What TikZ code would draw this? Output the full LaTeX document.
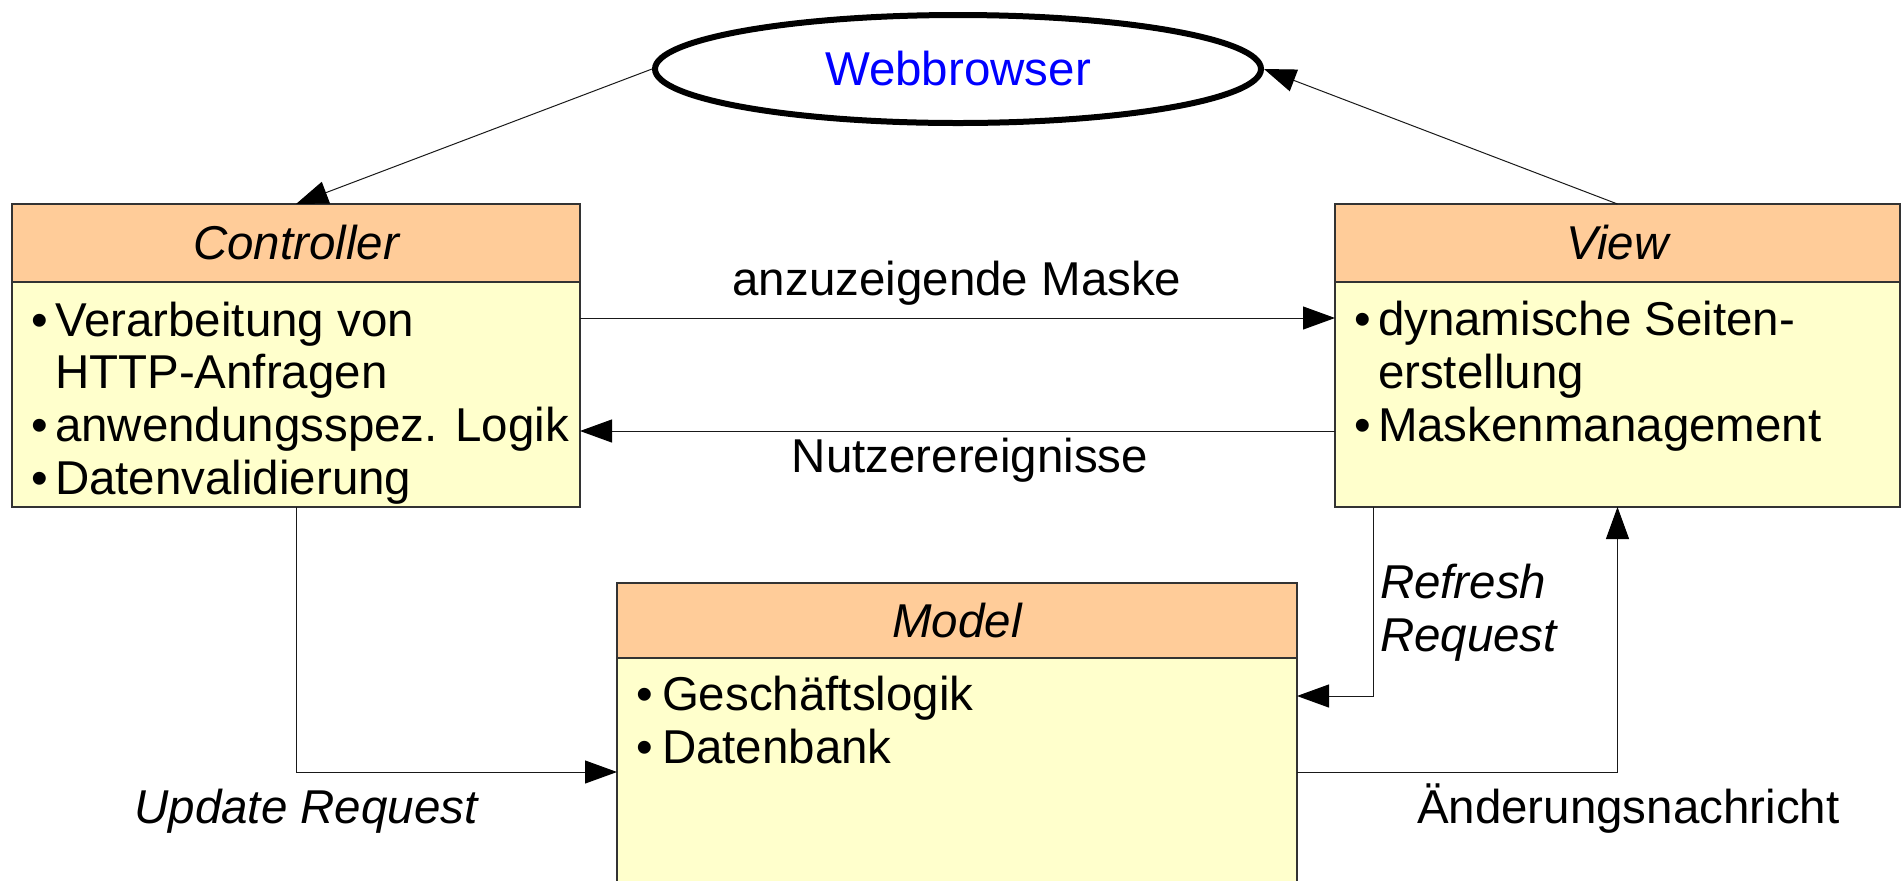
\documentclass[tikz,border=0pt]{standalone}
\usepackage{fontspec}
\setmainfont{Liberation Sans}
\usetikzlibrary{arrows.meta,shapes.geometric,calc}
\definecolor{hdrfill}{HTML}{FFCC99}
\definecolor{bodyfill}{HTML}{FFFFCC}
\definecolor{edgecol}{HTML}{333333}
\definecolor{webblue}{HTML}{0000FF}
\begin{document}
\begin{tikzpicture}[x=0.5pt,y=-0.5pt,
  txt/.style={font=\fontsize{23.75pt}{26pt}\selectfont, inner sep=0pt, outer sep=0pt},
  itxt/.style={inner sep=0pt, outer sep=0pt, font=\fontsize{23.75pt}{26pt}\selectfont\itshape},
  boxpart/.style={draw=edgecol, line width=0.9pt, rectangle, inner sep=0pt, outer sep=0pt, anchor=north west},
  hdr/.style={boxpart, fill=hdrfill, font=\fontsize{23.75pt}{26pt}\selectfont\itshape},
  bdy/.style={boxpart, fill=bodyfill},
  conn/.style={draw=black!90, line width=0.5pt, -{Triangle[length=16pt,width=11.5pt,color=black]}},
]
\useasboundingbox (0,0) rectangle (1903,880);
\clip (0,0) rectangle (1903,880);

% Webbrowser
\node[ellipse, draw=black, line width=3pt, minimum width=303pt, minimum height=54pt,
      inner sep=0pt, text=webblue, font=\fontsize{23.75pt}{26pt}\selectfont] (web) at (958,69) {Webbrowser};

% Controller
\node[hdr, minimum width=284pt, minimum height=39pt] (ctrlH) at (12,204) {Controller};
\node[bdy, minimum width=284pt, minimum height=112.5pt] (ctrlB) at (12,282) {};
\node[txt, anchor=base] (cb1) at (40,336) {•};
\node[txt, anchor=base west] (ct1) at (55,336) {Verarbeitung von};
\node[txt, anchor=base west] (ct2) at (55,388) {HTTP-Anfragen};
\node[txt, anchor=base] (cb3) at (40,441) {•};
\node[txt, anchor=base west] (ct3) at (55,441) {anwendungsspez. Logik};
\node[txt, anchor=base] (cb4) at (40,494) {•};
\node[txt, anchor=base west] (ct4) at (55,494) {Datenvalidierung};

% View
\node[hdr, minimum width=282.5pt, minimum height=39pt] (viewH) at (1335,204) {View};
\node[bdy, minimum width=282.5pt, minimum height=112.5pt] (viewB) at (1335,282) {};
\node[txt, anchor=base] (vb1) at (1363,335) {•};
\node[txt, anchor=base west] (vt1) at (1378,335) {dynamische Seiten-};
\node[txt, anchor=base west] (vt2) at (1378,388) {erstellung};
\node[txt, anchor=base] (vb3) at (1363,441) {•};
\node[txt, anchor=base west] (vt3) at (1378,441) {Maskenmanagement};

% Model
\node[hdr, minimum width=340pt, minimum height=37.5pt] (modelH) at (617,583) {Model};
\node[bdy, minimum width=340pt, minimum height=121pt] (modelB) at (617,658) {};
\node[txt, anchor=base] (mb1) at (645,710) {•};
\node[txt, anchor=base west] (mt1) at (662,710) {Geschäftslogik};
\node[txt, anchor=base] (mb2) at (645,763) {•};
\node[txt, anchor=base west] (mt2) at (662,763) {Datenbank};

% row / column helpers
\coordinate (rowA) at (0,318);
\coordinate (rowB) at (0,431);
\coordinate (rowC) at (0,772);
\coordinate (rowD) at (0,696);
\coordinate (colR) at (1373,0);

% connectors
\draw[conn] (web.west) -- (ctrlH.north);
\draw[conn] (viewH.north) -- (web.east);
\draw[conn] (ctrlB.east |- rowA) -- (viewB.west |- rowA);
\draw[conn] (viewB.west |- rowB) -- (ctrlB.east |- rowB);
\draw[conn] (ctrlB.south) |- (modelB.west |- rowC);
\draw[conn] (viewB.south -| colR) |- (modelB.east |- rowD);
\draw[conn] (modelB.east |- rowC) -| (viewB.south);

% labels
\node[txt, anchor=base] (lA) at (957,295) {anzuzeigende Maske};
\node[txt, anchor=base] (lB) at (970,472) {Nutzerereignisse};
\node[itxt, anchor=base] (lC) at (306,823) {Update Request};
\node[itxt, anchor=base west] (lD1) at (1380,598) {Refresh};
\node[itxt, anchor=base west] (lD2) at (1380,651) {Request};
\node[txt, anchor=base west] (lE) at (1417,823) {Änderungsnachricht};
\end{tikzpicture}
\end{document}
